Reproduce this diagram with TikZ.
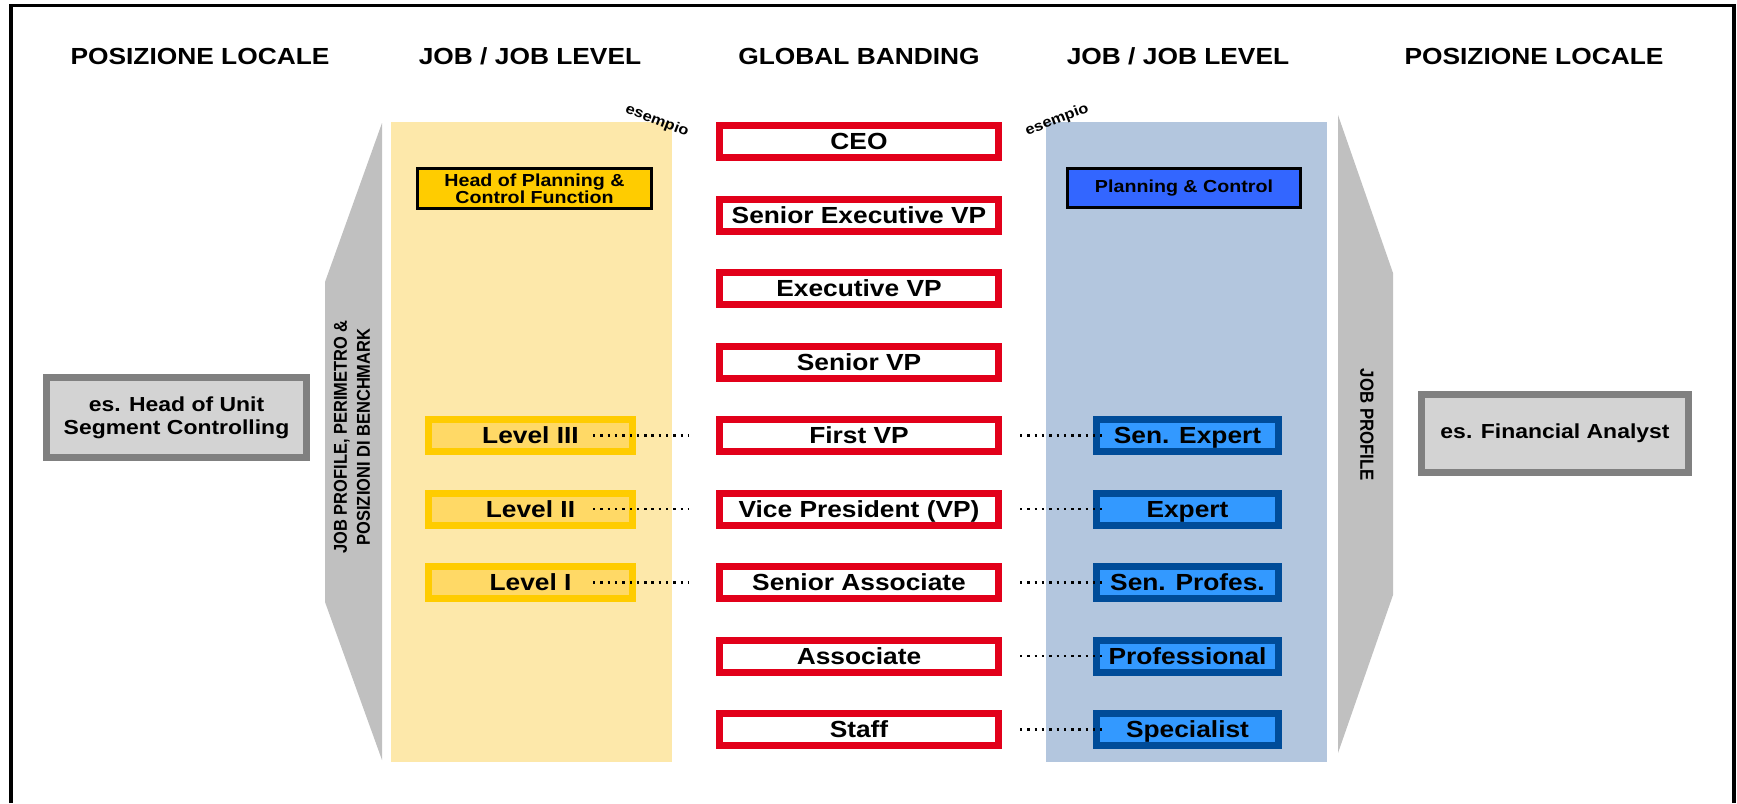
\documentclass[tikz,border=0pt]{standalone}
\usepackage{fontspec}
\setmainfont{Liberation Sans}[FakeStretch=1.13]
\newfontfamily\sidefont{Liberation Sans}[FakeStretch=0.885]
\usepackage{xcolor}
\usepackage{tikz}
\usetikzlibrary{shapes,arrows,positioning,calc,fit}

\definecolor{panelyellow}{RGB}{253,232,170}
\definecolor{panelblue}{RGB}{179,198,222}
\definecolor{wedgegray}{RGB}{192,192,192}
\definecolor{boxgray}{RGB}{211,211,211}
\definecolor{edgegray}{RGB}{128,128,128}
\definecolor{bandred}{RGB}{226,0,26}
\definecolor{lvlyellow}{RGB}{255,204,0}
\definecolor{lvlyellowin}{RGB}{255,217,102}
\definecolor{lvlblue}{RGB}{0,76,153}
\definecolor{lvlbluein}{RGB}{51,153,255}
\definecolor{planblue}{RGB}{51,102,255}

\begin{document}
\begin{tikzpicture}[x=1pt, y=-1pt,
    heading/.style={font=\fontsize{23.3}{26}\selectfont\bfseries},
    band/.style={rectangle, draw=bandred, fill=white, line width=7pt, inner sep=0pt, outer sep=0pt, minimum width=279pt, minimum height=32pt, text height=16.7pt, text depth=0pt, font=\fontsize{23.3}{26}\selectfont\bfseries},
    jobyellow/.style={rectangle, draw=lvlyellow, fill=lvlyellowin, line width=7pt, inner sep=0pt, outer sep=0pt, minimum width=204pt, minimum height=32pt, text height=16.7pt, text depth=0pt, font=\fontsize{23.3}{26}\selectfont\bfseries},
    jobblue/.style={rectangle, draw=lvlblue, fill=lvlbluein, line width=7pt, inner sep=0pt, outer sep=0pt, minimum width=182pt, minimum height=32pt, text height=16.7pt, text depth=0pt, font=\fontsize{23.3}{26}\selectfont\bfseries},
    localbox/.style={rectangle, draw=edgegray, fill=boxgray, line width=7pt, inner sep=0pt, outer sep=0pt, align=center, font=\fontsize{20.3}{23}\selectfont\bfseries},
    functionbox/.style={rectangle, draw=black, line width=3pt, inner sep=0pt, outer sep=0pt, align=center, font=\fontsize{17.4}{16.7}\selectfont\bfseries},
    sidelabel/.style={align=center, inner sep=0pt},
    sample/.style={inner sep=0pt, font=\fontsize{14.5}{16}\selectfont\bfseries},
    matchline/.style={line width=2.5pt, dash pattern=on 2.4pt off 4.9pt}
]
    \useasboundingbox (0,0) rectangle (1737,803);

    % Outer frame
    \draw[line width=3.5pt] (11,803) -- (11,5.5) -- (1734,5.5) -- (1734,803);

    % Column headings
    \node[heading] (posL) at (200,56) {POSIZIONE LOCALE};
    \node[heading] (jobL) at (530,56) {JOB / JOB LEVEL};
    \node[heading] (bandH) at (859,56) {GLOBAL BANDING};
    \node[heading] (jobR) at (1178,56) {JOB / JOB LEVEL};
    \node[heading] (posR) at (1534,56) {POSIZIONE LOCALE};

    % Background panels
    \fill[panelyellow] (391,122) rectangle (672,762);
    \fill[panelblue] (1046,122) rectangle (1327,762);

    % Grey wedges
    \fill[wedgegray] (382,123) -- (382,760) -- (325,602) -- (325,282) -- cycle;
    \fill[wedgegray] (1338,115) -- (1393,273) -- (1393,595) -- (1338,753) -- cycle;
    \node[sidelabel, rotate=90, font=\sidefont\fontsize{18.6}{23}\selectfont\bfseries] (wedgeL) at (352,437) {JOB PROFILE, PERIMETRO \&\\POSIZIONI DI BENCHMARK};
    \node[sidelabel, rotate=-90, font=\sidefont\fontsize{19}{23}\selectfont\bfseries] (wedgeR) at (1367,425) {JOB PROFILE};

    % Local positions
    \node[localbox, minimum width=260pt, minimum height=80pt] (unitL) at (176.5,417.5) {es. Head of Unit\\Segment Controlling};
    \node[localbox, minimum width=267pt, minimum height=78pt] (analystR) at (1555,433.5) {es. Financial Analyst};

    % Example labels
    \node[sample, rotate=-21] (sampleL) at (657,121) {esempio};
    \node[sample, rotate=21] (sampleR) at (1057,120) {esempio};

    % Functions
    \node[functionbox, fill=lvlyellow, minimum width=234pt, minimum height=40pt] (headpc) at (534.5,188.5) {Head of Planning \&\\Control Function};
    \node[functionbox, fill=planblue, minimum width=233pt, minimum height=39pt] (planctl) at (1184,188) {Planning \& Control};

    % Global banding
    \node[band] (ceo) at (859,141.5) {CEO};
    \node[band] (sevp) at (859,215) {Senior Executive VP};
    \node[band] (evp) at (859,288.5) {Executive VP};
    \node[band] (svp) at (859,362) {Senior VP};
    \node[band] (fvp) at (859,435.5) {First VP};
    \node[band] (vp) at (859,509) {Vice President (VP)};
    \node[band] (sa) at (859,582.5) {Senior Associate};
    \node[band] (assoc) at (859,656) {Associate};
    \node[band] (staff) at (859,729.5) {Staff};

    % Job levels (left)
    \node[jobyellow] (lvlIII) at (530.5,435.5) {Level III};
    \node[jobyellow] (lvlII) at (530.5,509) {Level II};
    \node[jobyellow] (lvlI) at (530.5,582.5) {Level I};

    % Job levels (right)
    \node[jobblue] (senexp) at (1187.5,435.5) {Sen. Expert};
    \node[jobblue] (expert) at (1187.5,509) {Expert};
    \node[jobblue] (senprof) at (1187.5,582.5) {Sen. Profes.};
    \node[jobblue] (prof) at (1187.5,656) {Professional};
    \node[jobblue] (spec) at (1187.5,729.5) {Specialist};

    % Dotted links
    \draw[matchline] ([xshift=-39.5pt]lvlIII.east) -- ([xshift=-31.5pt]fvp.west);
    \draw[matchline] ([xshift=-39.5pt]lvlII.east) -- ([xshift=-31.5pt]vp.west);
    \draw[matchline] ([xshift=-39.5pt]lvlI.east) -- ([xshift=-31.5pt]sa.west);
    \draw[matchline] ([xshift=21.5pt]fvp.east) -- ([xshift=5.5pt]senexp.west);
    \draw[matchline] ([xshift=21.5pt]vp.east) -- ([xshift=5.5pt]expert.west);
    \draw[matchline] ([xshift=21.5pt]sa.east) -- ([xshift=5.5pt]senprof.west);
    \draw[matchline] ([xshift=21.5pt]assoc.east) -- ([xshift=5.5pt]prof.west);
    \draw[matchline] ([xshift=21.5pt]staff.east) -- ([xshift=5.5pt]spec.west);
\end{tikzpicture}
\end{document}
